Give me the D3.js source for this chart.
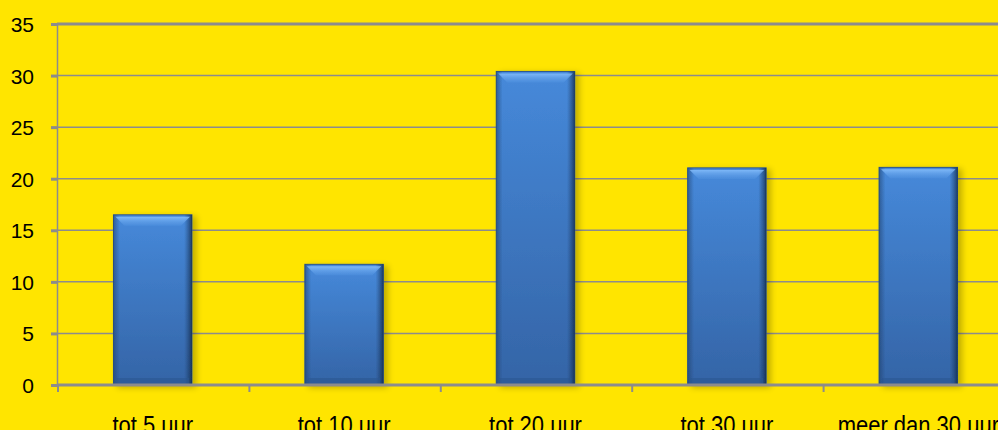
<!DOCTYPE html>
<html>
<head>
<meta charset="utf-8">
<script src="https://cdn.jsdelivr.net/npm/d3@7"></script>
<style>
  body { margin: 0; background: #ffe500; }
  svg { display: block; }
  .tick text { font-family: "Liberation Sans", Arial, sans-serif; fill: #000; }
</style>
</head>
<body>
<svg id="chart" width="998" height="430"></svg>
<script>
// uren per week
let categories = ["tot 5 uur", "tot 10 uur", "tot 20 uur", "tot 30 uur", "meer dan 30 uur"]
let values = [16.5, 11.7, 30.4, 21.05, 21.1]
let yTicks = [0, 5, 10, 15, 20, 25, 30, 35]

let svg = d3.select("#chart")
let margin = { top: 24, left: 57, bottom: 45 }
let height = +svg.attr("height")

svg.append("rect").attr("width", 998).attr("height", 430).attr("fill", "#ffe500")

let x = d3.scaleBand()
  .domain(categories)
  .range([margin.left, 1014])
  .paddingInner(0.59)
  .paddingOuter(0.295)

let y = d3.scaleLinear()
  .domain([0, 35])
  .range([height - margin.bottom, margin.top])

// gradients
let defs = svg.append("defs")
let body = defs.append("linearGradient").attr("id", "barBody")
  .attr("x1", 0).attr("y1", 0).attr("x2", 0).attr("y2", 1)
body.append("stop").attr("offset", "0%").attr("stop-color", "#4689da")
body.append("stop").attr("offset", "100%").attr("stop-color", "#3464a6")

let side = defs.append("linearGradient").attr("id", "barSide")
  .attr("x1", 0).attr("y1", 0).attr("x2", 1).attr("y2", 0)
side.append("stop").attr("offset", "0%").attr("stop-color", "#1e3d66").attr("stop-opacity", 0.55)
side.append("stop").attr("offset", "8%").attr("stop-color", "#1e3d66").attr("stop-opacity", 0)
side.append("stop").attr("offset", "90%").attr("stop-color", "#1e3d66").attr("stop-opacity", 0)
side.append("stop").attr("offset", "100%").attr("stop-color", "#0f2340").attr("stop-opacity", 0.75)

let bevel = defs.append("linearGradient").attr("id", "bevel")
  .attr("x1", 0).attr("y1", 0).attr("x2", 0).attr("y2", 1)
bevel.append("stop").attr("offset", "0%").attr("stop-color", "#8cc4ff").attr("stop-opacity", 0.8)
bevel.append("stop").attr("offset", "100%").attr("stop-color", "#5a9ae6").attr("stop-opacity", 0.3)

let shadow = defs.append("filter").attr("id", "shadow")
  .attr("x", "-20%").attr("y", "-10%").attr("width", "150%").attr("height", "130%")
shadow.append("feGaussianBlur").attr("in", "SourceAlpha").attr("stdDeviation", 3)
shadow.append("feOffset").attr("dx", 4).attr("dy", 2).attr("result", "blur")
shadow.append("feComponentTransfer").append("feFuncA").attr("type", "linear").attr("slope", 0.25)
let merge = shadow.append("feMerge")
merge.append("feMergeNode")
merge.append("feMergeNode").attr("in", "SourceGraphic")

// grid
svg.append("g")
  .selectAll("line")
  .data(yTicks.slice(1))
  .enter()
  .append("line")
  .attr("x1", margin.left)
  .attr("x2", 998)
  .attr("y1", d => y(d))
  .attr("y2", d => y(d))
  .attr("stroke", "#8c8c8c")
  .attr("stroke-width", d => d === 35 ? 3 : 1.5)

// y axis
let yAxis = svg.append("g")
  .attr("transform", "translate(" + margin.left + ",0)")
  .call(d3.axisLeft(y).tickValues(yTicks).tickSize(6).tickPadding(17))
yAxis.selectAll("text").style("font-size", "21px").attr("dy", "0.36em")
yAxis.selectAll("line, path").attr("stroke", "#8c8c8c").attr("stroke-width", 1.5)
yAxis.selectAll(".tick line").attr("stroke-width", 3)

// bars
let bars = svg.append("g")
  .selectAll("g")
  .data(values)
  .enter()
  .append("g")
  .attr("filter", "url(#shadow)")

bars.append("rect")
  .attr("x", (d, i) => x(categories[i]))
  .attr("y", d => y(d))
  .attr("width", x.bandwidth())
  .attr("height", d => y(0) - y(d))
  .attr("fill", "url(#barBody)")
  .attr("stroke", "#2a558f")
  .attr("stroke-width", 1)

bars.append("rect")
  .attr("x", (d, i) => x(categories[i]))
  .attr("y", d => y(d))
  .attr("width", x.bandwidth())
  .attr("height", d => y(0) - y(d))
  .attr("fill", "url(#barSide)")

// top bevel
bars.append("path")
  .attr("d", (d, i) => {
    let x0 = x(categories[i]) + 2, x1 = x0 + x.bandwidth() - 4, y0 = y(d) + 2
    return "M" + x0 + "," + y0 + "L" + x1 + "," + y0 + "L" + (x1 - 9) + "," + (y0 + 9) + "L" + (x0 + 9) + "," + (y0 + 9) + "Z"
  })
  .attr("fill", "url(#bevel)")

// bottom bevel
bars.append("rect")
  .attr("x", (d, i) => x(categories[i]) + 3)
  .attr("y", d => y(0) - 7)
  .attr("width", x.bandwidth() - 6)
  .attr("height", 6)
  .attr("fill", "#2c5691")
  .attr("opacity", 0.6)

// x axis
let xAxis = svg.append("g")
  .attr("transform", "translate(0," + y(0) + ")")
  .call(d3.axisBottom(x).tickSize(0).tickPadding(27))
xAxis.select(".domain").attr("stroke", "#8c8c8c").attr("stroke-width", 3)
  .attr("d", "M" + margin.left + ",0H998")
xAxis.selectAll("text").style("font-size", "22px")
  .attr("transform", "scale(1,1.15)")

// category separators
let step = x.step()
svg.append("g")
  .selectAll("line")
  .data(d3.range(categories.length + 1))
  .enter()
  .append("line")
  .attr("x1", i => margin.left + 1 + i * step)
  .attr("x2", i => margin.left + 1 + i * step)
  .attr("y1", y(0))
  .attr("y2", y(0) + 7)
  .attr("stroke", "#8c8c8c")
  .attr("stroke-width", 2)
</script>
</body>
</html>
